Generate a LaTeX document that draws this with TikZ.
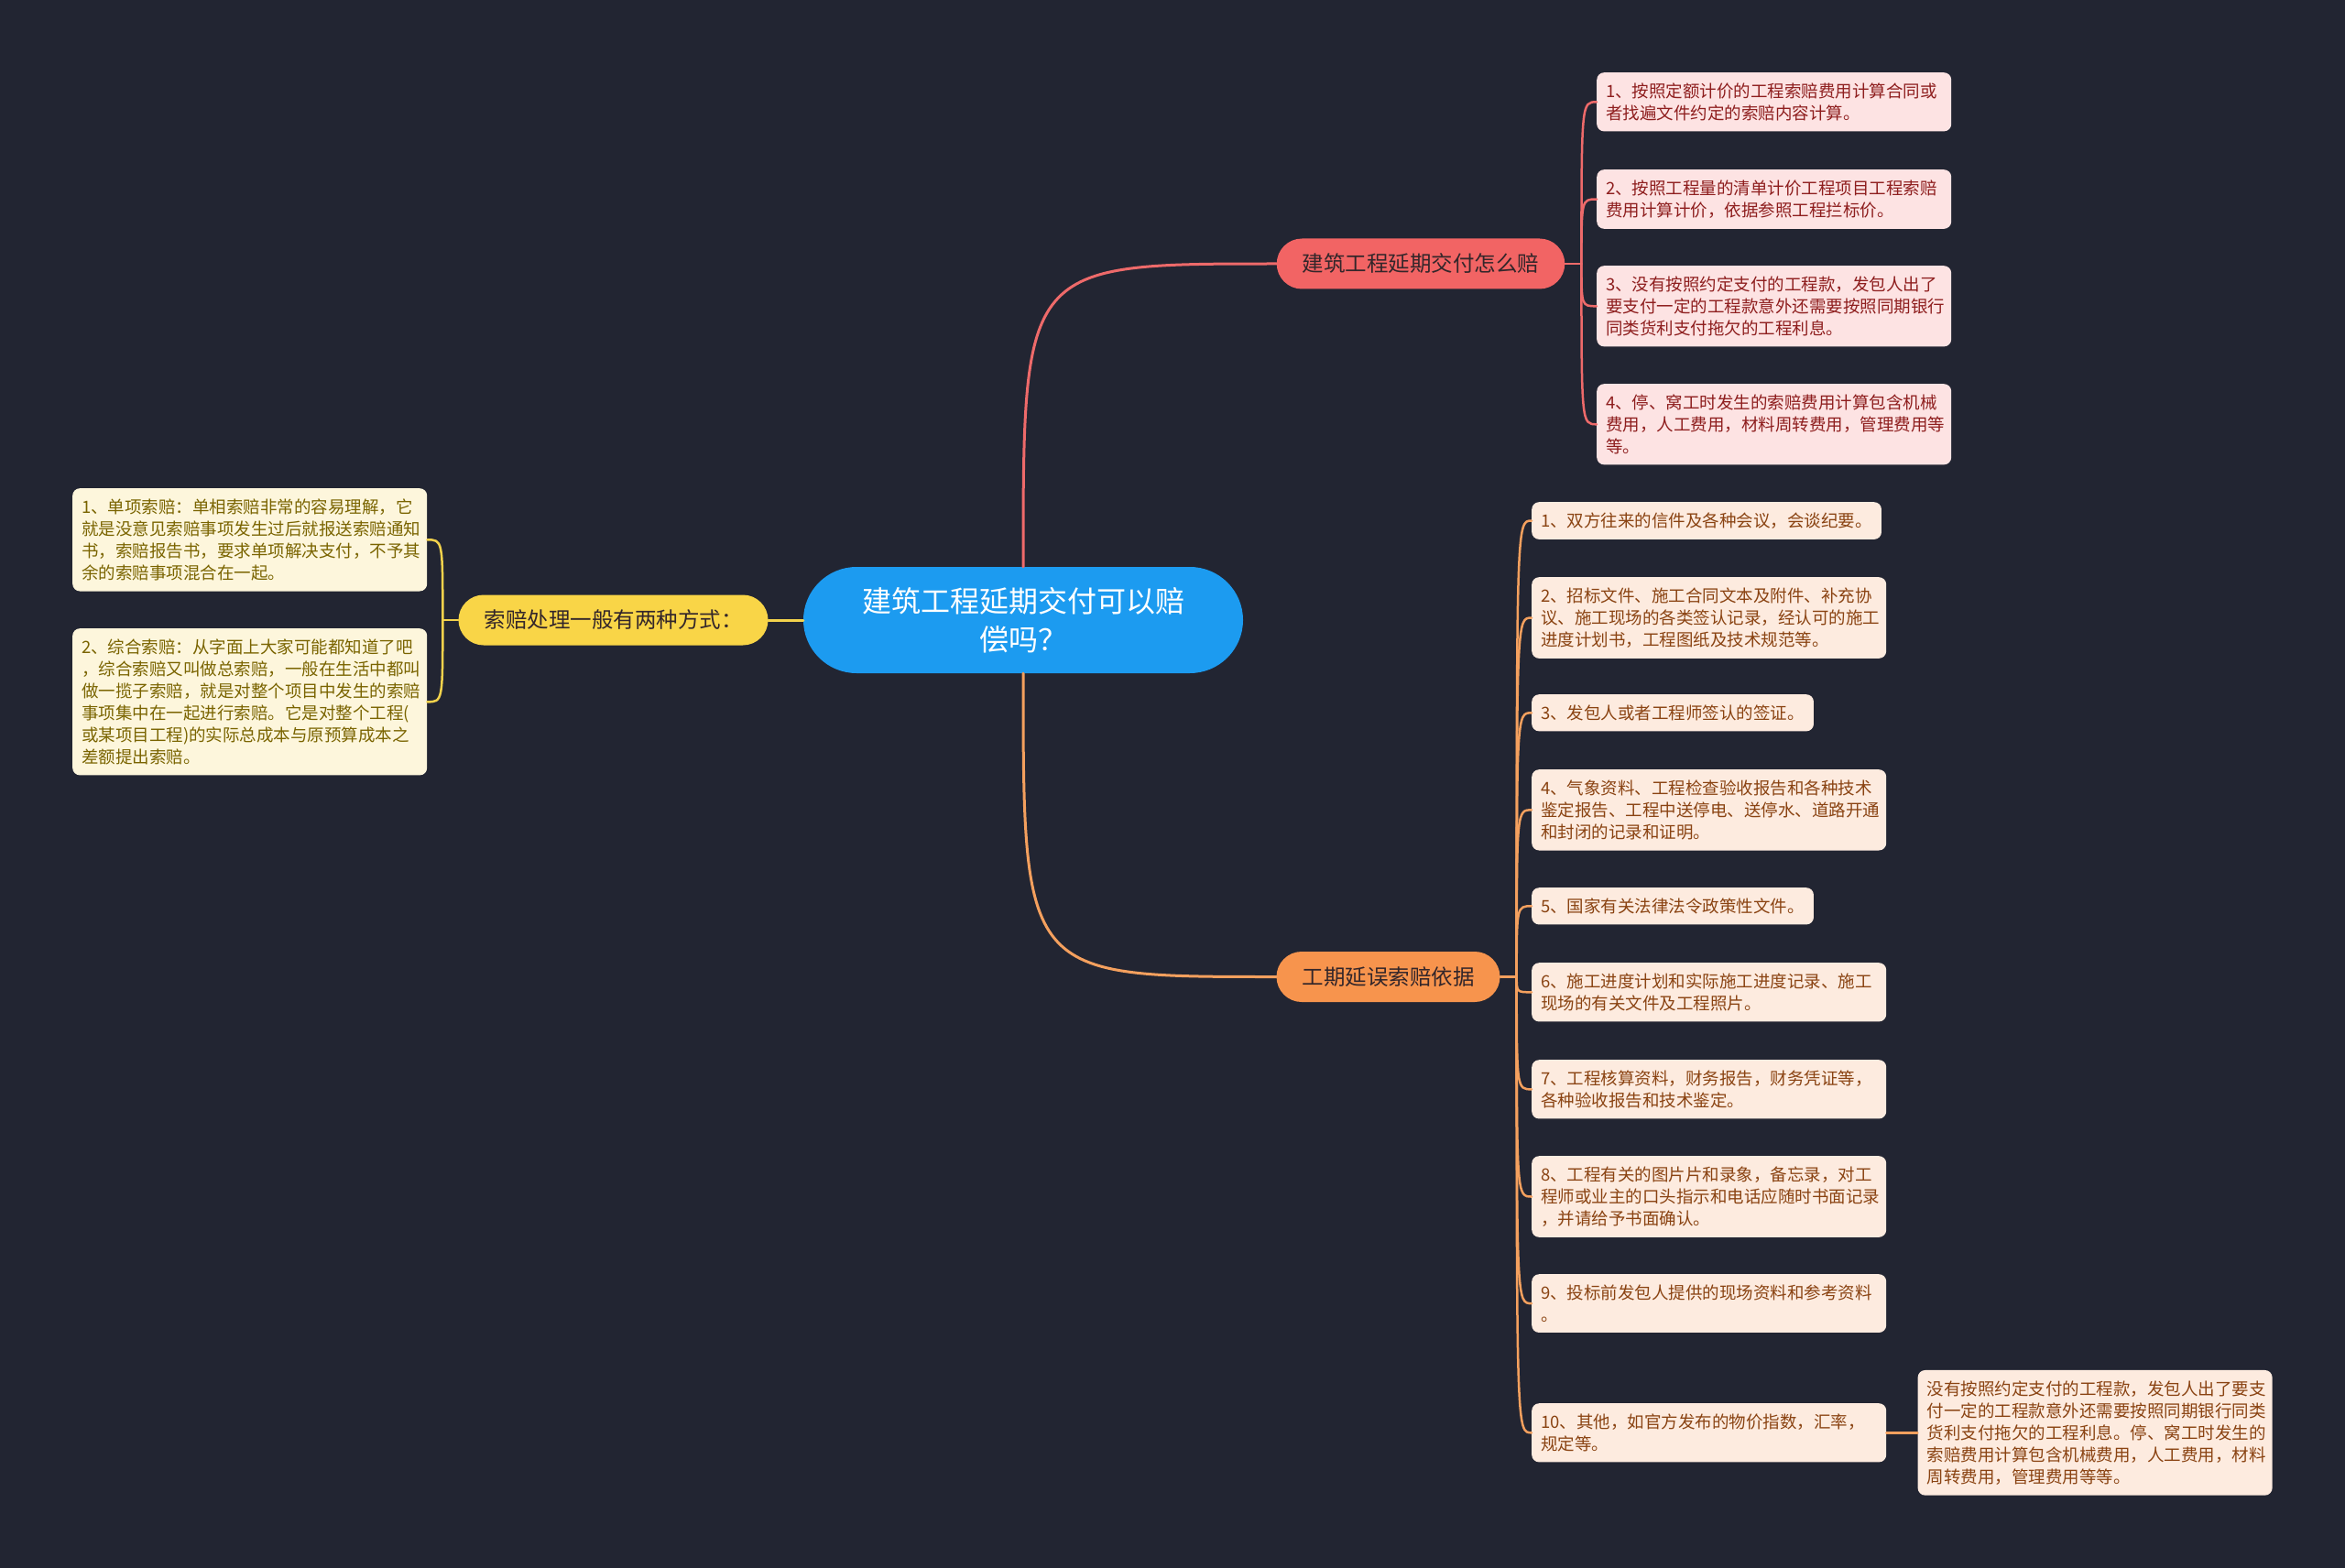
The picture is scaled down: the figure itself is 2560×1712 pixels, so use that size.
\documentclass[tikz,border=0pt]{standalone}
\usepackage{fontspec}
\setmainfont{Noto Sans CJK SC}
\usetikzlibrary{calc}
\definecolor{mmBg}{HTML}{222532}
\definecolor{mmBlue}{HTML}{1C9BF0}
\definecolor{mmDark}{HTML}{33262A}
\definecolor{mmRed}{HTML}{F26464}
\definecolor{mmRedLine}{HTML}{EE6A6A}
\definecolor{mmRedLeaf}{HTML}{FDE3E3}
\definecolor{mmRedInk}{HTML}{8E1E1E}
\definecolor{mmOrange}{HTML}{F7944D}
\definecolor{mmOrangeLine}{HTML}{F4A05E}
\definecolor{mmOrangeLeaf}{HTML}{FDEBDF}
\definecolor{mmOrangeInk}{HTML}{8A4312}
\definecolor{mmYellow}{HTML}{F9D547}
\definecolor{mmYellowLine}{HTML}{F3D24C}
\definecolor{mmYellowLeaf}{HTML}{FDF6DC}
\definecolor{mmYellowInk}{HTML}{7A6400}
\newcommand{\MMRoot}{\fontsize{32}{42}\selectfont}
\newcommand{\MMBranch}{\fontsize{23.5}{28}\selectfont}
\newcommand{\MMLeaf}{\fontsize{18.5}{24}\selectfont}
\tikzset{mm/base/.style={x=1pt,y=-1pt,line cap=round,
  every node/.style={inner sep=0pt}},
  mm/root/.style={fill=mmBlue,text=white,rounded corners=58pt,minimum width=480pt,
    minimum height=116pt,align=center,font=\MMRoot},
  mm/branch/.style={rounded corners=27.5pt,minimum height=55pt,inner xsep=28pt,
    text=mmDark,font=\MMBranch},
  mm/leaf/.style={rounded corners=8pt,inner xsep=10pt,inner ysep=11.5pt,align=left,
    anchor=north west,font=\MMLeaf},
  mm/wide/.style={text width=367pt},
  mm/redleaf/.style={mm/leaf,fill=mmRedLeaf,text=mmRedInk},
  mm/orangeleaf/.style={mm/leaf,fill=mmOrangeLeaf,text=mmOrangeInk},
  mm/yellowleaf/.style={mm/leaf,fill=mmYellowLeaf,text=mmYellowInk},
  mm/link/.style={line width=3pt},
  mm/twig/.style={line width=2.5pt}}

\begin{document}
\begin{tikzpicture}[mm/base]
  \fill[mmBg] (0,0) rectangle (2560,1712);
  \useasboundingbox (0,0) rectangle (2560,1712);
  % centre and its three branches
  \node[mm/root] (root) at (1117,677) {建筑工程延期交付可以赔\\偿吗？};
  \node[mm/branch,fill=mmRed] (pay) at (1551,288) {建筑工程延期交付怎么赔};
  \node[mm/branch,fill=mmOrange] (basis) at (1515.5,1066.5) {工期延误索赔依据};
  \node[mm/branch,fill=mmYellow] (ways) at (669.5,677) {索赔处理一般有两种方式：};
  \draw[mm/link,mmRedLine] (root.north) .. controls (root.north |- pay.west) .. (pay.west);
  \draw[mm/link,mmOrangeLine] (root.south) .. controls (root.south |- basis.west) .. (basis.west);
  \draw[mm/link,mmYellowLine] (root.west) -- (ways.east);
  % how to claim
  \node[mm/redleaf,mm/wide] (p1) at (1743,79) {1、按照定额计价的工程索赔费用计算合同或\\者找遍文件约定的索赔内容计算。};
  \node[mm/redleaf,mm/wide] (p2) at (1743,185) {2、按照工程量的清单计价工程项目工程索赔\\费用计算计价，依据参照工程拦标价。};
  \node[mm/redleaf,mm/wide] (p3) at (1743,290) {3、没有按照约定支付的工程款，发包人出了\\要支付一定的工程款意外还需要按照同期银行\\同类货利支付拖欠的工程利息。};
  \node[mm/redleaf,mm/wide] (p4) at (1743,419) {4、停、窝工时发生的索赔费用计算包含机械\\费用，人工费用，材料周转费用，管理费用等\\等。};
  \coordinate (payfork) at ($(pay.east)+(18,0)$);
  \draw[mm/twig,mmRedLine] (pay.east) -- (payfork);
  \foreach \n in {p1,p2,p3,p4}{%
    \draw[mm/twig,mmRedLine] (payfork) .. controls (payfork |- \n.west) .. (\n.west);}
  % evidence list
  \node[mm/orangeleaf] (b1) at (1672,548) {1、双方往来的信件及各种会议，会谈纪要。};
  \node[mm/orangeleaf,mm/wide] (b2) at (1672,630) {2、招标文件、施工合同文本及附件、补充协\\议、施工现场的各类签认记录，经认可的施工\\进度计划书，工程图纸及技术规范等。};
  \node[mm/orangeleaf] (b3) at (1672,758) {3、发包人或者工程师签认的签证。};
  \node[mm/orangeleaf,mm/wide] (b4) at (1672,840) {4、气象资料、工程检查验收报告和各种技术\\鉴定报告、工程中送停电、送停水、道路开通\\和封闭的记录和证明。};
  \node[mm/orangeleaf] (b5) at (1672,969) {5、国家有关法律法令政策性文件。};
  \node[mm/orangeleaf,mm/wide] (b6) at (1672,1051) {6、施工进度计划和实际施工进度记录、施工\\现场的有关文件及工程照片。};
  \node[mm/orangeleaf,mm/wide] (b7) at (1672,1157) {7、工程核算资料，财务报告，财务凭证等，\\各种验收报告和技术鉴定。};
  \node[mm/orangeleaf,mm/wide] (b8) at (1672,1262) {8、工程有关的图片片和录象，备忘录，对工\\程师或业主的口头指示和电话应随时书面记录\\，并请给予书面确认。};
  \node[mm/orangeleaf,mm/wide] (b9) at (1672,1391) {9、投标前发包人提供的现场资料和参考资料\\。};
  \node[mm/orangeleaf,mm/wide] (b10) at (1672,1532) {10、其他，如官方发布的物价指数，汇率，\\规定等。};
  \node[mm/orangeleaf,mm/wide,anchor=west] (bx) at ($(b10.east)+(34,0)$) {没有按照约定支付的工程款，发包人出了要支\\付一定的工程款意外还需要按照同期银行同类\\货利支付拖欠的工程利息。停、窝工时发生的\\索赔费用计算包含机械费用，人工费用，材料\\周转费用，管理费用等等。};
  \coordinate (basisfork) at ($(basis.east)+(18,0)$);
  \draw[mm/twig,mmOrangeLine] (basis.east) -- (basisfork);
  \foreach \n in {b1,b2,b3,b4,b5,b6,b7,b8,b9,b10}{%
    \draw[mm/twig,mmOrangeLine] (basisfork) .. controls (basisfork |- \n.west) .. (\n.west);}
  \draw[mm/twig,mmOrangeLine] (b10.east) -- (bx.west);
  % two kinds of claim
  \node[mm/yellowleaf,mm/wide] (w1) at (79,533) {1、单项索赔：单相索赔非常的容易理解，它\\就是没意见索赔事项发生过后就报送索赔通知\\书，索赔报告书，要求单项解决支付，不予其\\余的索赔事项混合在一起。};
  \node[mm/yellowleaf,mm/wide] (w2) at (79,686) {2、综合索赔：从字面上大家可能都知道了吧\\，综合索赔又叫做总索赔，一般在生活中都叫\\做一揽子索赔，就是对整个项目中发生的索赔\\事项集中在一起进行索赔。它是对整个工程(\\或某项目工程)的实际总成本与原预算成本之\\差额提出索赔。};
  \coordinate (waysfork) at ($(ways.west)+(-17,0)$);
  \draw[mm/twig,mmYellowLine] (ways.west) -- (waysfork);
  \foreach \n in {w1,w2}{%
    \draw[mm/twig,mmYellowLine] (waysfork) .. controls (waysfork |- \n.east) .. (\n.east);}
\end{tikzpicture}
\end{document}
